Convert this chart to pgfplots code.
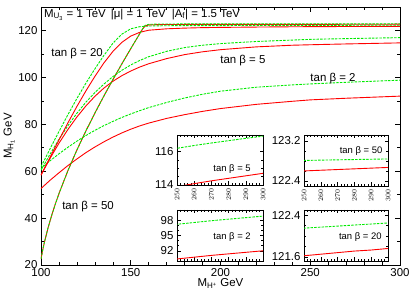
\documentclass[border=0pt]{standalone}
\usepackage{fontspec}
\setmainfont{Liberation Sans}
\usepackage{pgfplots}
\usepackage{pgfplotstable}
\pgfplotsset{compat=1.18}
\definecolor{lgreen}{RGB}{0,235,0}

\pgfplotstableread{
x r g
100 52.6 61.1
105 56.1 64.4
110 59.3 67.4
115 62.4 70.2
120 65.2 72.8
125 67.9 75.2
130 70.3 77.4
135 72.5 79.4
140 74.5 81.2
145 76.3 82.9
150 77.9 84.4
155 79.3 85.8
160 80.5 87.1
170 82.5 89.3
180 84.1 91.2
190 85.5 92.8
200 86.7 94.1
220 88.5 95.8
240 89.8 96.8
250 90.4 97.2
260 90.75 97.55
270 91.1 97.9
280 91.4 98.2
290 91.7 98.5
300 92.0 98.8
}\tbtwo

\pgfplotstableread{
x r g
100 58.3 60.4
105 65.4 67.2
110 71.9 73.6
115 77.8 79.4
120 83.1 84.7
125 87.8 89.4
130 91.9 93.5
135 95.4 97.1
140 98.3 100.3
145 100.7 103.0
150 102.7 105.3
155 104.4 107.2
160 105.8 108.8
170 108.0 111.1
180 109.7 112.7
190 110.9 113.7
200 111.8 114.4
220 113.0 115.3
240 113.7 115.9
250 113.9 116.2
260 114.08 116.37
270 114.25 116.52
280 114.4 116.66
290 114.55 116.8
300 114.7 116.93
}\tbfive

\pgfplotstableread{
x r g
100 58.3 61.9
105 65.9 69.5
110 73.3 76.9
115 80.6 84.1
120 87.6 91.0
125 94.2 97.5
130 100.4 103.6
135 106.1 109.3
140 111.0 114.5
145 114.9 118.4
150 117.6 120.7
155 119.2 121.6
160 120.1 121.9
170 120.7 122.02
180 121.0 122.05
190 121.2 122.07
200 121.3 122.08
220 121.45 122.11
240 121.57 122.14
250 121.62 122.15
260 121.65 122.17
270 121.68 122.19
280 121.71 122.21
290 121.73 122.23
300 121.76 122.25
}\tbtwenty

\pgfplotstableread{
x r g
100 22.6 22.6
101 26.56 26.56
102 30.0 30.0
104 36.06 36.06
106 41.3 41.3
108 46.04 46.04
110 50.42 50.42
115 60.25 60.25
120 69.03 69.03
125 77.14 77.14
130 84.75 84.75
135 92.0 92.0
140 98.97 98.97
145 105.7 105.7
150 112.24 112.24
155 118.63 118.63
156.5 120.5 120.5
158 121.9 122.2
160 122.35 122.6
165 122.5 122.72
170 122.54 122.76
180 122.56 122.78
200 122.57 122.79
220 122.58 122.8
240 122.59 122.805
250 122.6 122.81
260 122.614 122.816
270 122.628 122.822
280 122.642 122.828
290 122.656 122.834
300 122.67 122.84
}\tbfifty

\pgfplotsset{
  rline/.style={red, line width=0.9bp},
  gline/.style={lgreen, line width=0.9bp, dash pattern=on 2.5bp off 1.2bp},
  inset/.style={scale only axis, anchor=south west, xmin=250, xmax=300,
    axis background/.style={fill=white}, tick align=inside,
    major tick length=3.5bp, minor tick length=2bp,
    xtick={250,260,...,300}, minor x tick num=4,
    axis line style={line width=0.6bp},
    every tick/.style={black, line width=0.5bp},
    yticklabel style={font=\fontsize{11.5}{12}\selectfont},
    clip=true},
  rotx/.style={xticklabel style={rotate=90, anchor=east, font=\fontsize{7}{8}\selectfont}},
}

\begin{document}
\begin{tikzpicture}[font=\fontsize{11.5}{13}\selectfont]
\begin{axis}[scale only axis, width=359bp, height=258bp,
  xmin=100, xmax=300, ymin=20, ymax=130,
  xtick={100,150,...,300}, minor x tick num=4,
  ytick={20,40,...,120}, minor y tick num=1,
  tick align=inside, major tick length=5bp, minor tick length=3bp,
  axis line style={line width=0.6bp},
  every tick/.style={black, line width=0.5bp},
  /pgf/number format/assume math mode=true,
  xlabel={M\textsubscript{H\textsuperscript{+}} GeV},
  ylabel={M\textsubscript{H\textsubscript{1}} GeV},
  xlabel style={yshift=4.5bp},
  ylabel style={yshift=-3bp},
  clip=true]
\addplot[rline] table[x=x,y=r]{\tbtwo};
\addplot[gline] table[x=x,y=g]{\tbtwo};
\addplot[rline] table[x=x,y=r]{\tbfive};
\addplot[gline] table[x=x,y=g]{\tbfive};
\addplot[rline] table[x=x,y=r]{\tbtwenty};
\addplot[gline] table[x=x,y=g]{\tbtwenty};
\addplot[rline] table[x=x,y=r]{\tbfifty};
\addplot[gline] table[x=x,y=g]{\tbfifty};
\node[anchor=west, inner sep=0pt] at (axis cs:101.6,126.8) {M\textsubscript{U\textsubscript{3}} = 1 TeV\hspace{5bp}|μ| = 1 TeV\hspace{6bp}|A\textsubscript{f}| = 1.5 TeV};
\node at (axis cs:120.1,110.2) {tan β = 20};
\node at (axis cs:212.5,107.2) {tan β = 5};
\node at (axis cs:262.7,99.5) {tan β = 2};
\node at (axis cs:126.2,44.8) {tan β = 50};
\end{axis}

% top-left inset: tan beta = 5
\begin{axis}[inset, rotx, at={(136bp,80bp)}, width=86bp, height=50bp,
  ymin=114, ymax=117, ytick={114,116}, yticklabels={114,116}, minor y tick num=3]
\addplot[rline] table[x=x,y=r]{\tbfive};
\addplot[gline] table[x=x,y=g]{\tbfive};
\node[font=\fontsize{9.5}{11}\selectfont] at (rel axis cs:0.64,0.32) {tan β = 5};
\end{axis}

% top-right inset: tan beta = 50
\begin{axis}[inset, rotx, at={(263bp,79bp)}, width=84bp, height=51bp,
  ymin=122.3, ymax=123.32, ytick={122.4,123.2}, yticklabels={122.4,123.2}, minor y tick num=3]
\addplot[rline] table[x=x,y=r]{\tbfifty};
\addplot[gline] table[x=x,y=g]{\tbfifty};
\node[font=\fontsize{9.5}{11}\selectfont] at (rel axis cs:0.68,0.69) {tan β = 50};
\end{axis}

% bottom-left inset: tan beta = 2
\begin{axis}[inset, at={(136bp,4bp)}, width=86bp, height=51bp,
  ymin=90, ymax=100, ytick={92,95,98}, yticklabels={92,95,98}, minor y tick num=2,
  xticklabels={}]
\addplot[rline] table[x=x,y=r]{\tbtwo};
\addplot[gline] table[x=x,y=g]{\tbtwo};
\node[font=\fontsize{9.5}{11}\selectfont] at (rel axis cs:0.64,0.47) {tan β = 2};
\end{axis}

% bottom-right inset: tan beta = 20
\begin{axis}[inset, at={(263bp,4bp)}, width=84bp, height=51bp,
  ymin=121.52, ymax=122.5, ytick={121.6,122.4}, yticklabels={121.6,122.4}, minor y tick num=3,
  xticklabels={}]
\addplot[rline] table[x=x,y=r]{\tbtwenty};
\addplot[gline] table[x=x,y=g]{\tbtwenty};
\node[font=\fontsize{9.5}{11}\selectfont] at (rel axis cs:0.67,0.47) {tan β = 20};
\end{axis}

\pgfresetboundingbox
\path (-41bp,-25bp) rectangle (373bp,265bp);
\end{tikzpicture}
\end{document}
